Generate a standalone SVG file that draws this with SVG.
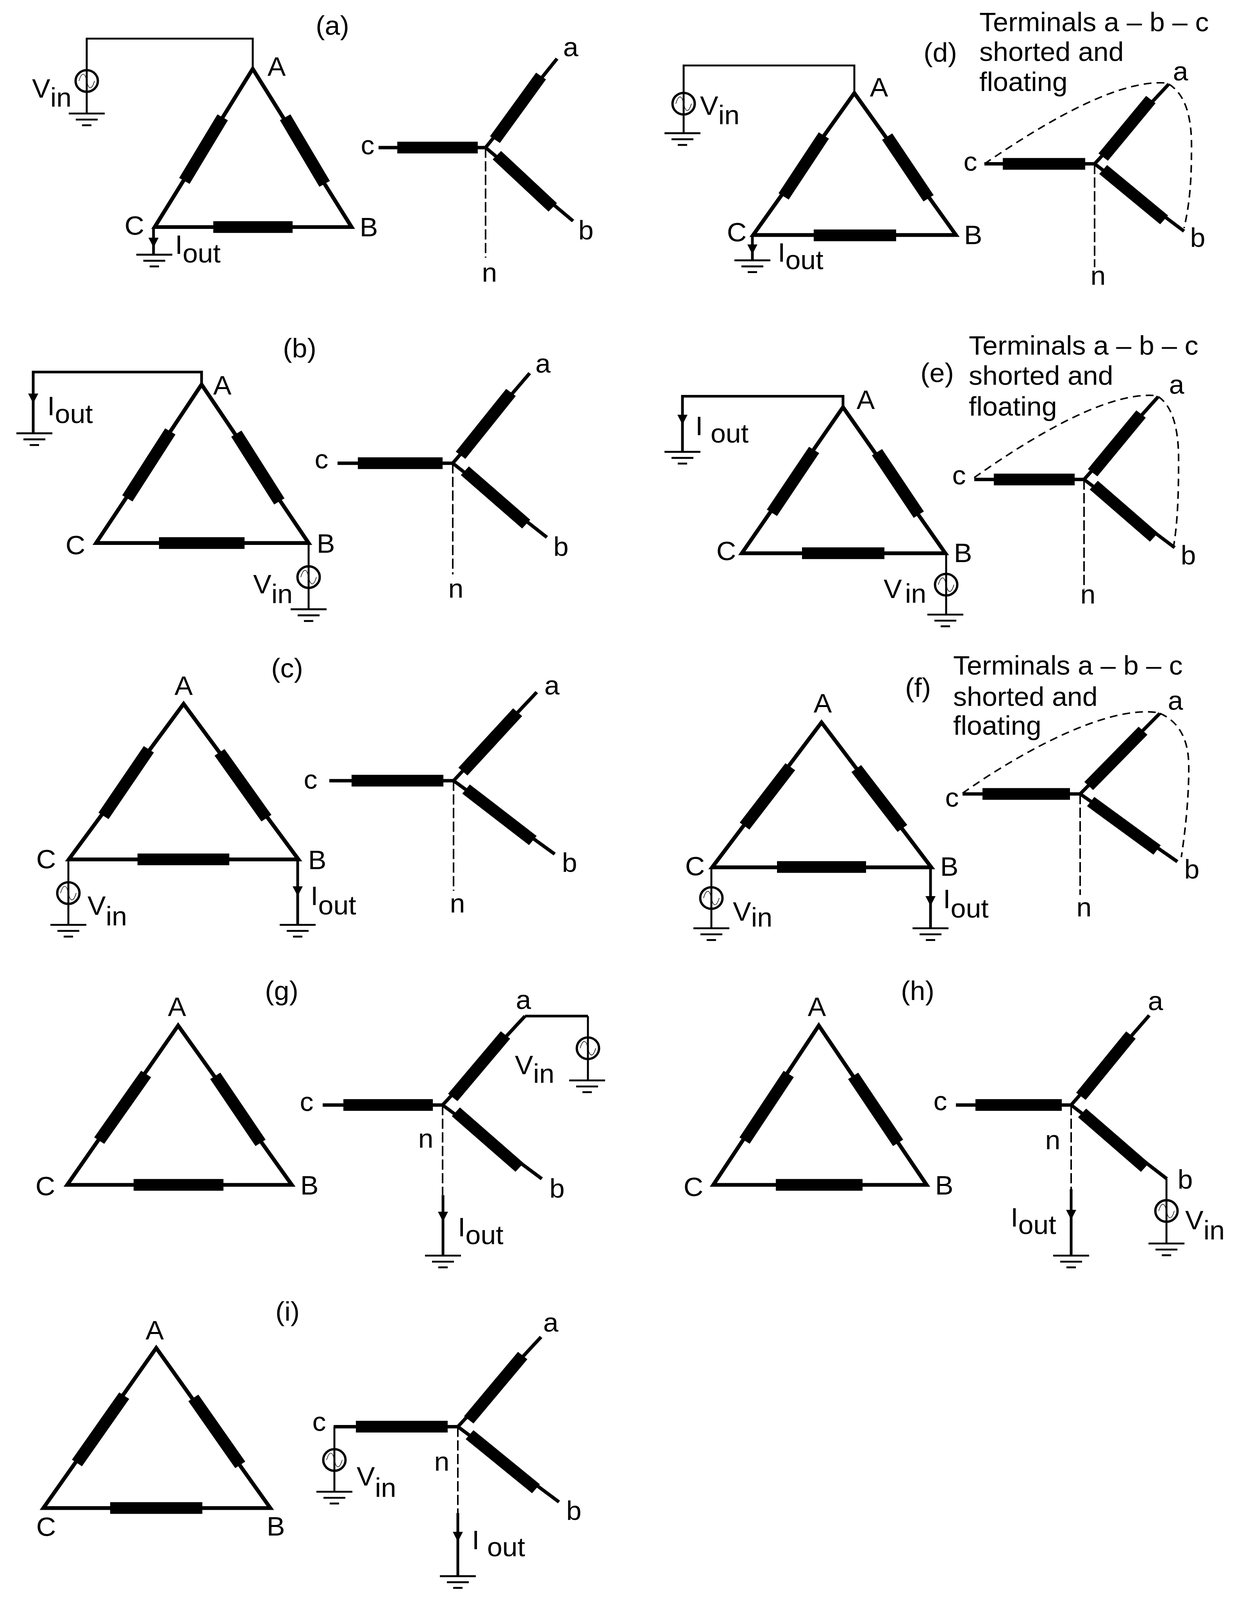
<svg xmlns="http://www.w3.org/2000/svg" width="3164" height="4228" viewBox="0 0 3164 4228" preserveAspectRatio="none">
<style>
svg{display:block;width:100vw;height:100vh}
text{font-family:"Liberation Sans",Arial,sans-serif;font-size:70px;fill:#000}
.m{text-anchor:middle}
path,line,circle{fill:none;stroke:#000}
.t{stroke-width:10;stroke-linejoin:miter;stroke-miterlimit:10}
.b{stroke-width:31}
.w{stroke-width:5}
.W{stroke-width:7}
.y{stroke-width:9}
.n{stroke-width:4;stroke-dasharray:27 9}
.f{stroke-width:4;stroke-dasharray:20 13}
</style>
<defs>
<g id="gnd"><path d="M-46,0H46" stroke-width="5"/><path d="M-28,16H28" stroke-width="5"/><path d="M-12,31H12" stroke-width="5"/></g>
<g id="src"><circle r="28.5" fill="#fff" stroke-width="6"/><path d="M-20,0C-13,-24 -5,-24 0,0S13,24 20,0" stroke="#999" stroke-width="1.5"/></g>
<path id="arw" d="M0,0L-13,-26H13Z" style="fill:#000;stroke:none"/>
</defs>
<rect width="3164" height="4228" fill="#fff"/>

<g id="connectors">
<path class="w" d="M222,214V102H647V179M222,214V300"/>
<path class="W" d="M393,602V673"/>
<path class="W" d="M516,1013V983H85V1145"/>
<path class="w" d="M790,1435V1610"/>
<path class="w" d="M175,2271V2444"/>
<path class="W" d="M762,2271V2444"/>
<path class="w" d="M1750,274V173H2187V243M1750,274V352"/>
<path class="W" d="M1926,621V688"/>
<path class="W" d="M2158,1073V1047H1747V1194"/>
<path class="w" d="M2422,1462V1624"/>
<path class="f" d="M2494,1262C2654,1146 2843,1031 2965,1046M2965,1048C3000,1072 3018,1130 3017,1220C3017,1300 3015,1380 3004,1445"/>
<path class="f" d="M2520,433C2680,320 2870,205 2992,220M2992,222C3035,250 3052,310 3050,400C3050,480 3045,540 3031,603"/>
<path class="w" d="M1821,2292V2453"/>
<path class="W" d="M2382,2292V2453"/>
<path class="f" d="M2464,2096C2624,1980 2843,1860 2969,1884M2969,1885C3015,1905 3042,1950 3043,2020C3044,2100 3035,2190 3024,2265"/>
<path class="W" d="M1344,2685H1505"/>
<path class="w" d="M1505,2685V2855"/>
<path class="W" d="M1134,3158V3318"/>
<path class="W" d="M2742,3142V3318"/>
<path class="w" d="M2986,3115V3286"/>
<path class="W" d="M1172,3998V4165"/>
<path class="w" d="M856,3770V3942"/>
<use href="#arw" x="393" y="654"/>
<use href="#arw" x="85" y="1066"/>
<use href="#arw" x="762" y="2368"/>
<use href="#arw" x="1926" y="672"/>
<use href="#arw" x="1747" y="1122"/>
<use href="#arw" x="2382" y="2394"/>
<use href="#arw" x="1134" y="3228"/>
<use href="#arw" x="2742" y="3223"/>
<use href="#arw" x="1172" y="4074"/>
</g>

<g id="delta-a"><path class="t" d="M647,182L396,600H900Z"/><path class="b" d="M570,310L472,478M730,310L831,486M546,600H749"/>
<text x="851" y="92" class="m">(a)</text><text x="708" y="200" class="m">A</text><text x="944" y="624" class="m">B</text><text x="344" y="620" class="m">C</text></g>
<g id="star-a"><path class="y" d="M969,390H1243L1426,155M1243,390L1467,584"/><path class="n" d="M1243,390V681"/><path class="b" d="M1017,390H1223M1267,369L1385,201M1272,410L1415,548"/>
<text x="1461" y="149" class="m">a</text><text x="1500" y="633" class="m">b</text><text x="941" y="408" class="m">c</text><text x="1253" y="744" class="m">n</text></g>
<g id="io-a"><use href="#src" x="222" y="214"/><use href="#gnd" x="222" y="300"/><use href="#gnd" x="395" y="673"/>
<text x="82" y="258">V<tspan dy="24">in</tspan></text><text x="448" y="671">I<tspan dy="23">out</tspan></text></g>

<g id="delta-b"><path class="t" d="M516,1016L246,1435H790Z"/><path class="b" d="M436,1140L326,1317M605,1146L715,1325M407,1435H626"/>
<text x="767" y="945" class="m">(b)</text><text x="569" y="1043" class="m">A</text><text x="834" y="1461" class="m">B</text><text x="193" y="1465" class="m">C</text></g>
<g id="star-b"><path class="y" d="M864,1224H1159L1356,986M1159,1224L1400,1420"/><path class="n" d="M1159,1224V1518"/><path class="b" d="M916,1224H1133M1179,1203L1308,1037M1190,1244L1347,1385"/>
<text x="1390" y="985" class="m">a</text><text x="1436" y="1469" class="m">b</text><text x="823" y="1238" class="m">c</text><text x="1167" y="1579" class="m">n</text></g>
<g id="io-b"><use href="#src" x="790" y="1525"/><use href="#gnd" x="790" y="1610"/><use href="#gnd" x="88" y="1145"/>
<text x="648" y="1568">V<tspan dy="26">in</tspan></text><text x="121" y="1097">I<tspan dy="21">out</tspan></text></g>

<g id="delta-c"><path class="t" d="M470,1860L176,2271H764Z"/><path class="b" d="M381,1980L265,2156M562,1988L682,2162M352,2271H587"/>
<text x="735" y="1790" class="m">(c)</text><text x="470" y="1836" class="m">A</text><text x="812" y="2297" class="m">B</text><text x="118" y="2295" class="m">C</text></g>
<g id="star-c"><path class="y" d="M843,2063H1161L1374,1829M1161,2063L1420,2257"/><path class="n" d="M1161,2063V2354"/><path class="b" d="M900,2063H1135M1185,2039L1325,1882M1193,2085L1364,2221"/>
<text x="1413" y="1835" class="m">a</text><text x="1458" y="2304" class="m">b</text><text x="795" y="2084" class="m">c</text><text x="1171" y="2411" class="m">n</text></g>
<g id="io-c"><use href="#src" x="175" y="2360"/><use href="#gnd" x="175" y="2444"/><use href="#gnd" x="762" y="2444"/>
<text x="224" y="2417">V<tspan dy="28">in</tspan></text><text x="795" y="2392">I<tspan dy="24">out</tspan></text></g>

<g id="delta-d"><path class="t" d="M2187,246L1928,621H2447Z"/><path class="b" d="M2109,358L2006,519M2271,361L2377,524M2083,622H2294"/>
<text x="2407" y="163" class="m">(d)</text><text x="2250" y="255" class="m">A</text><text x="2491" y="645" class="m">B</text><text x="1886" y="638" class="m">C</text></g>
<g id="star-d"><path class="y" d="M2520,433H2802L2992,222M2802,433L3031,611"/><path class="n" d="M2802,433V706"/><path class="b" d="M2567,433H2778M2824,415L2946,263M2824,448L2980,581"/>
<text x="3022" y="213" class="m">a</text><text x="3066" y="652" class="m">b</text><text x="2484" y="451" class="m">c</text><text x="2811" y="752" class="m">n</text>
<text x="2507" y="83">Terminals a – b – c</text><text x="2507" y="161">shorted and</text><text x="2507" y="240">floating</text></g>
<g id="io-d"><use href="#src" x="1750" y="274"/><use href="#gnd" x="1747" y="352"/><use href="#gnd" x="1926" y="688"/>
<text x="1792" y="304">V<tspan dy="24">in</tspan></text><text x="1991" y="692">I<tspan dy="19">out</tspan></text></g>

<g id="delta-e"><path class="t" d="M2158,1076L1899,1462H2420Z"/><path class="b" d="M2084,1189L1976,1355M2245,1195L2352,1360M2053,1462H2264"/>
<text x="2399" y="1010" class="m">(e)</text><text x="2216" y="1081" class="m">A</text><text x="2465" y="1485" class="m">B</text><text x="1859" y="1480" class="m">C</text></g>
<g id="star-e"><path class="y" d="M2494,1267H2775L2965,1048M2775,1267L3007,1447"/><path class="n" d="M2775,1267V1556"/><path class="b" d="M2544,1267H2751M2797,1249L2921,1094M2800,1282L2954,1420"/>
<text x="3012" y="1040" class="m">a</text><text x="3042" y="1492" class="m">b</text><text x="2455" y="1280" class="m">c</text><text x="2785" y="1595" class="m">n</text>
<text x="2480" y="937">Terminals a – b – c</text><text x="2480" y="1017">shorted and</text><text x="2480" y="1098">floating</text></g>
<g id="io-e"><use href="#src" x="2422" y="1545"/><use href="#gnd" x="2420" y="1624"/><use href="#gnd" x="1747" y="1194"/>
<text x="2262" y="1580">V<tspan dy="13" dx="8">in</tspan></text><text x="1780" y="1150">I <tspan dy="20">out</tspan></text></g>

<g id="delta-f"><path class="t" d="M2103,1909L1823,2292H2384Z"/><path class="b" d="M2023,2026L1906,2183M2192,2031L2310,2189M1989,2291H2217"/>
<text x="2350" y="1841" class="m">(f)</text><text x="2106" y="1883" class="m">A</text><text x="2430" y="2314" class="m">B</text><text x="1779" y="2313" class="m">C</text></g>
<g id="star-f"><path class="y" d="M2464,2098H2765L2969,1885M2765,2098L3014,2277"/><path class="n" d="M2765,2098V2365"/><path class="b" d="M2515,2098H2739M2787,2077L2926,1931M2792,2118L2962,2246"/>
<text x="3009" y="1876" class="m">a</text><text x="3051" y="2322" class="m">b</text><text x="2437" y="2132" class="m">c</text><text x="2775" y="2422" class="m">n</text>
<text x="2440" y="1783">Terminals a – b – c</text><text x="2440" y="1865">shorted and</text><text x="2440" y="1942">floating</text></g>
<g id="io-f"><use href="#src" x="1821" y="2373"/><use href="#gnd" x="1821" y="2453"/><use href="#gnd" x="2382" y="2453"/>
<text x="1876" y="2433">V<tspan dy="15">in</tspan></text><text x="2414" y="2400">I<tspan dy="25">out</tspan></text></g>

<g id="delta-g"><path class="t" d="M456,2710L172,3131H747Z"/><path class="b" d="M374,2838L254,3014M551,2843L667,3020M342,3131H572"/>
<text x="721" y="2642" class="m">(g)</text><text x="453" y="2685" class="m">A</text><text x="792" y="3157" class="m">B</text><text x="116" y="3159" class="m">C</text></g>
<g id="star-g"><path class="y" d="M826,2920H1133L1344,2685M1133,2920L1387,3115"/><path class="n" d="M1133,2920V3158"/><path class="b" d="M879,2920H1108M1159,2900L1294,2735M1167,2938L1330,3085"/>
<text x="1340" y="2666" class="m">a</text><text x="1426" y="3165" class="m">b</text><text x="785" y="2936" class="m">c</text><text x="1090" y="3033" class="m">n</text></g>
<g id="io-g"><use href="#src" x="1505" y="2770"/><use href="#gnd" x="1503" y="2855"/><use href="#gnd" x="1134" y="3318"/>
<text x="1318" y="2839">V<tspan dy="22">in</tspan></text><text x="1172" y="3267">I<tspan dy="21">out</tspan></text></g>

<g id="delta-h"><path class="t" d="M2096,2710L1826,3131H2372Z"/><path class="b" d="M2019,2838L1906,3014M2184,2843L2299,3020M1986,3131H2208"/>
<text x="2349" y="2642" class="m">(h)</text><text x="2091" y="2685" class="m">A</text><text x="2417" y="3157" class="m">B</text><text x="1775" y="3161" class="m">C</text></g>
<g id="star-h"><path class="y" d="M2447,2920H2742L2942,2683M2742,2920L2987,3115"/><path class="n" d="M2742,2920V3142"/><path class="b" d="M2497,2920H2718M2767,2897L2895,2735M2770,2941L2931,3085"/>
<text x="2958" y="2669" class="m">a</text><text x="3034" y="3141" class="m">b</text><text x="2407" y="2934" class="m">c</text><text x="2695" y="3037" class="m">n</text></g>
<g id="io-h"><use href="#src" x="2986" y="3200"/><use href="#gnd" x="2986" y="3286"/><use href="#gnd" x="2742" y="3318"/>
<text x="3034" y="3248">V<tspan dy="27">in</tspan></text><text x="2587" y="3241">I<tspan dy="20">out</tspan></text></g>

<g id="delta-i"><path class="t" d="M400,3562L111,3985H692Z"/><path class="b" d="M318,3688L197,3866M495,3694L615,3871M282,3985H518"/>
<text x="736" y="3490" class="m">(i)</text><text x="396" y="3539" class="m">A</text><text x="706" y="4058" class="m">B</text><text x="118" y="4059" class="m">C</text></g>
<g id="star-i"><path class="y" d="M854,3770H1172L1385,3533M1172,3770L1431,3969"/><path class="n" d="M1172,3770V3998"/><path class="b" d="M911,3770H1146M1200,3752L1338,3582M1202,3791L1372,3934"/>
<text x="1410" y="3519" class="m">a</text><text x="1469" y="4016" class="m">b</text><text x="817" y="3781" class="m">c</text><text x="1131" y="3886" class="m">n</text></g>
<g id="io-i"><use href="#src" x="856" y="3858"/><use href="#gnd" x="856" y="3942"/><use href="#gnd" x="1172" y="4165"/>
<text x="913" y="3926">V<tspan dy="29">in</tspan></text><text x="1208" y="4094">I <tspan dy="18">out</tspan></text></g>
</svg>
